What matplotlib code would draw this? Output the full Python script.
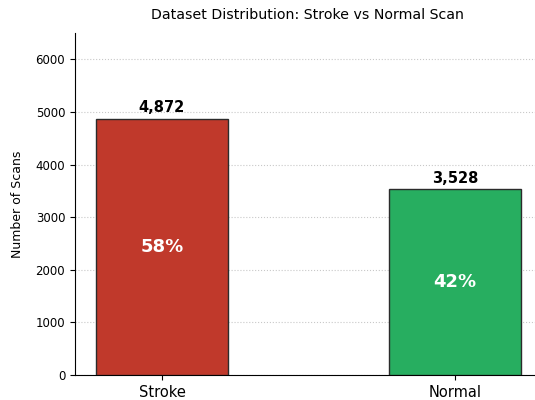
import matplotlib
matplotlib.use("Agg")
from matplotlib import pyplot as plt

categories = ["Stroke", "Normal"]
counts = [4872, 3528]
colors = ["#c0392b", "#27ae60"]

total = sum(counts)

fig = plt.figure(figsize=(5.35, 4.0), dpi=100)
ax = fig.add_axes([0.14, 0.0625, 0.86, 0.855])

x = list(range(len(categories)))
bars = ax.bar(x, counts, width=0.45, color=colors, edgecolor="#2b2b2b", linewidth=1.0, zorder=3)

# value labels above, percentages inside
for bar, c in zip(bars, counts):
    cx = bar.get_x() + bar.get_width() / 2
    ax.text(cx, c + 70, f"{c:,}", ha="center", va="bottom", fontsize=10.5, fontweight="bold")
    ax.text(cx, c / 2, f"{c / total:.0%}", ha="center", va="center", fontsize=13,
            fontweight="bold", color="white")

ax.set_xticks(x)
ax.set_xticklabels(categories, fontsize=10.5)
ax.set_xlim(-0.297, 1.273)
ax.set_ylim(0, 6500)
ax.tick_params(axis="y", labelsize=8.5)
ax.set_ylabel("Number of Scans", fontsize=9, labelpad=8)
ax.set_title("Dataset Distribution: Stroke vs Normal Scan", fontsize=10.2, pad=10, x=0.505)
ax.grid(axis="y", linestyle=":", color="#bbbbbb", alpha=0.8, linewidth=0.8, zorder=0)
ax.spines["top"].set_visible(False)
ax.spines["right"].set_visible(False)

fig.savefig("out.png", dpi=100)
